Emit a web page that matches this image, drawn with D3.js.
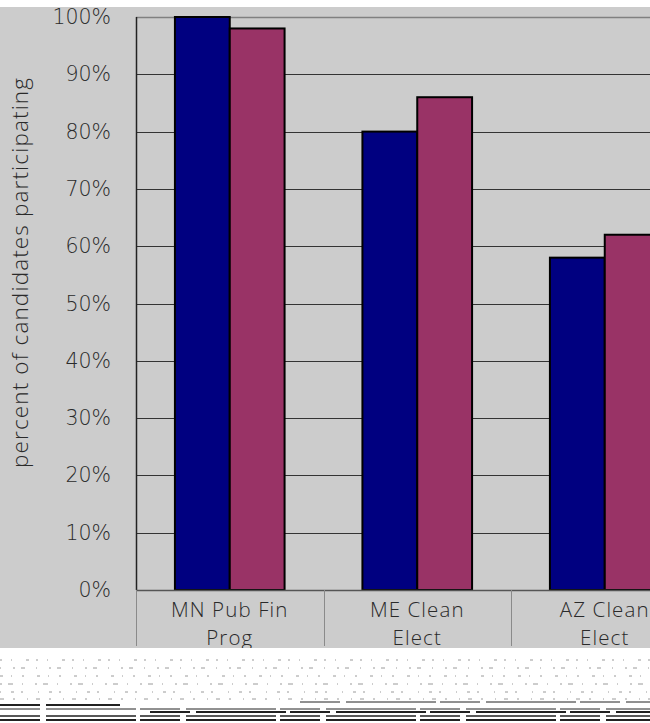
<!DOCTYPE html>
<html>
<head>
<meta charset="utf-8">
<script src="https://cdn.jsdelivr.net/npm/d3@7/dist/d3.min.js"></script>
<style>
  html, body { margin: 0; padding: 0; background: #ffffff; }
  svg { display: block; }
</style>
</head>
<body>
<svg id="chart" width="650" height="723"></svg>
<script>
// Participation rates in public financing programs
const categories = ["MN Pub Fin Prog", "ME Clean Elect", "AZ Clean Elect"];
const categoryLines = [["MN Pub Fin", "Prog"], ["ME Clean", "Elect"], ["AZ Clean", "Elect"]];
const seriesNames = ["Series A", "Series B"];
const seriesA = [100, 80, 58];
const seriesB = [98, 86, 62];
const yTicks = [0, 10, 20, 30, 40, 50, 60, 70, 80, 90, 100];
const yTitle = "percent of candidates participating";

const svg = d3.select("#chart");
const W = 650, H = 723;
const plot = { left: 136, top: 17, right: 698.5, bottom: 590 };
const colors = ["#000080", "#993366"];

// gray chart background
svg.append("rect").attr("x", 0).attr("y", 7).attr("width", W).attr("height", 641).attr("fill", "#cccccc");

const x0 = d3.scaleBand().domain(categories).range([plot.left, plot.right]).paddingInner(0).paddingOuter(0);
const x1 = d3.scaleBand().domain(seriesNames).range([0, x0.bandwidth()]).paddingInner(0).paddingOuter(0.71);
const y = d3.scaleLinear().domain([0, 100]).range([plot.bottom, plot.top]);

// horizontal gridlines
svg.append("g").selectAll("line").data(yTicks.filter(t => t > 0)).join("line")
  .attr("x1", plot.left).attr("x2", W)
  .attr("y1", d => Math.round(y(d)) + 0.5).attr("y2", d => Math.round(y(d)) + 0.5)
  .attr("stroke", d => d === 100 ? "#808080" : "#333333").attr("stroke-width", d => d === 100 ? 1.5 : 1);

// y-axis tick labels
const yAxis = d3.axisLeft(y).tickValues(yTicks).tickFormat(d => d + "%").tickSize(0).tickPadding(25);
const gy = svg.append("g").attr("transform", `translate(${plot.left},0)`).call(yAxis);
gy.select(".domain").remove();
gy.selectAll("text").attr("font-family", "DejaVu Sans, Verdana, sans-serif").attr("font-size", 20.5)
  .attr("font-weight", 200).attr("fill", "#2a2a2a");

// bars
const data = categories.map((c, i) => ({ cat: c, vals: [seriesA[i], seriesB[i]] }));
const groups = svg.append("g").selectAll("g").data(data).join("g")
  .attr("transform", d => `translate(${x0(d.cat)},0)`);
groups.selectAll("rect").data(d => d.vals.map((v, j) => ({ v, s: seriesNames[j], j }))).join("rect")
  .attr("x", d => x1(d.s))
  .attr("y", d => y(d.v))
  .attr("width", x1.bandwidth())
  .attr("height", d => y(0) - y(d.v))
  .attr("fill", d => colors[d.j])
  .attr("stroke", "#000000").attr("stroke-width", 2);

// plot left border and baseline
svg.append("line").attr("x1", plot.left + 0.5).attr("x2", plot.left + 0.5).attr("y1", plot.top).attr("y2", plot.bottom)
  .attr("stroke", "#222222").attr("stroke-width", 1.5);
svg.append("line").attr("x1", plot.left).attr("x2", W).attr("y1", plot.bottom + 0.5).attr("y2", plot.bottom + 0.5)
  .attr("stroke", "#555555").attr("stroke-width", 1.5);

// category dividers below the axis
const dividers = [plot.left].concat(categories.slice(1).map(c => x0(c)));
svg.append("g").selectAll("line").data(dividers).join("line")
  .attr("x1", d => Math.round(d) + 0.5).attr("x2", d => Math.round(d) + 0.5)
  .attr("y1", plot.bottom).attr("y2", 646)
  .attr("stroke", "#8a8a8a").attr("stroke-width", 1);

// category labels, two lines each
const labelRows = [];
categories.forEach((c, i) => categoryLines[i].forEach((ln, k) => labelRows.push({ c, ln, k })));
svg.append("g").selectAll("text").data(labelRows).join("text")
  .attr("x", d => x0(d.c) + x0.bandwidth() / 2)
  .attr("y", d => 617 + d.k * 28)
  .attr("text-anchor", "middle")
  .attr("font-family", "Open Sans, Lato, sans-serif").attr("font-size", 20.5).attr("font-weight", 300)
  .attr("letter-spacing", 1.1)
  .attr("fill", "#2a2a2a")
  .text(d => d.ln);

// y-axis title
svg.append("text")
  .attr("transform", "translate(28,273) rotate(-90)")
  .attr("text-anchor", "middle")
  .attr("font-family", "Open Sans, Lato, sans-serif").attr("font-size", 22.5).attr("font-weight", 300)
  .attr("fill", "#2a2a2a")
  .attr("textLength", 390).attr("lengthAdjust", "spacing")
  .text(yTitle);

// scanned strip along the bottom edge
const strip = svg.append("g");
strip.append("rect").attr("x", 0).attr("y", 648).attr("width", W).attr("height", 75).attr("fill", "#ffffff");
const faintLines = [660, 668, 676, 684, 692, 699];
strip.append("g").selectAll("line").data(faintLines).join("line")
  .attr("x1", 0).attr("x2", W).attr("y1", d => d).attr("y2", d => d)
  .attr("stroke", "#9a9a9a").attr("stroke-width", 1)
  .attr("stroke-dasharray", (d, i) => ["2,9,1,14,3,7", "1,12,2,6,4,11", "3,8,1,10,2,13", "2,6,5,9,1,12", "1,10,3,7,2,15", "4,9,2,12,1,8"][i]);
const stripLines = [
  { y: 705, x1: 0, x2: 120, w: 2 }, { y: 709, x1: 0, x2: 650, w: 1 },
  { y: 712, x1: 150, x2: 650, w: 2 }, { y: 716, x1: 0, x2: 650, w: 1.5 },
  { y: 720, x1: 0, x2: 650, w: 2 }, { y: 702, x1: 300, x2: 650, w: 1 }
];
strip.append("g").selectAll("line").data(stripLines).join("line")
  .attr("x1", d => d.x1).attr("x2", d => d.x2).attr("y1", d => d.y).attr("y2", d => d.y)
  .attr("stroke", "#222222").attr("stroke-width", d => d.w).attr("stroke-dasharray", "40,6,90,4");
</script>
</body>
</html>
